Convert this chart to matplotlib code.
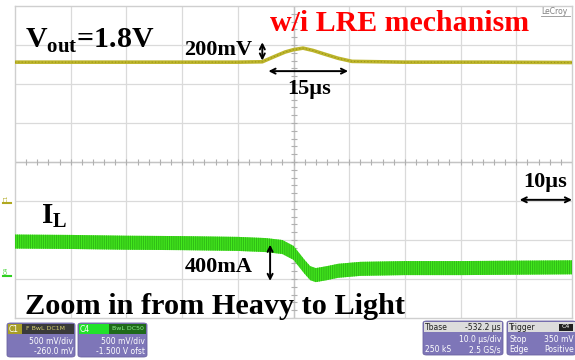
import numpy as np
import matplotlib
matplotlib.use('Agg')
import matplotlib.pyplot as plt
from matplotlib.patches import FancyBboxPatch, Rectangle

plt.rcParams['mathtext.fontset'] = 'custom'
plt.rcParams['mathtext.rm'] = 'Liberation Serif:bold'
plt.rcParams['mathtext.bf'] = 'Liberation Serif:bold'
plt.rcParams['hatch.linewidth'] = 0.6

# time axis in us, vertical axis in divisions (8 div screen)
t_vout = [-50, -30, -10, -5.6, -3.5, -1.5, 0, 1.7, 3.5, 5.5, 8, 10.5, 20, 35, 50]
vout = [2.56, 2.56, 2.56, 2.57, 2.70, 2.82, 2.88, 2.92, 2.86, 2.77, 2.66, 2.58, 2.56, 2.56, 2.55]

t_il = [-50, -40, -30, -20, -10, -5, -2, 0, 2, 3, 4, 6, 8, 12, 20, 30, 40, 50]
il = [-2.04, -2.05, -2.07, -2.08, -2.10, -2.13, -2.18, -2.33, -2.69, -2.85, -2.90,
      -2.85, -2.79, -2.74, -2.72, -2.72, -2.71, -2.70]
il_ripple = 0.36  # peak-to-peak, div

W, H = 575, 360
fig = plt.figure(figsize=(W / 100, H / 100), dpi=100)
fig.patch.set_facecolor('white')

def fx(x):
    return x / W

def fy(y):
    return 1 - y / H

ax = fig.add_axes([fx(15), fy(318), (572 - 15) / W, (318 - 6) / H])
ax.set_xlim(-50, 50)
ax.set_ylim(-4, 4)
ax.set_xticks([])
ax.set_yticks([])
for s in ax.spines.values():
    s.set_color('#cfcfcf')
    s.set_linewidth(1)

# graticule
for gx in np.arange(-40, 50, 10):
    ax.axvline(gx, color='#dadada', lw=0.9, zorder=1)
for gy in np.arange(-3, 4, 1):
    ax.axhline(gy, color='#dadada', lw=0.9, zorder=1)
ax.axhline(0, color='#c4c4c4', lw=1, zorder=1)
ax.axvline(0, color='#c4c4c4', lw=1, zorder=1)
ax.plot(np.arange(-50, 50.1, 2), np.zeros(51), '|', color='#b0b0b0', ms=4, mew=0.8, zorder=1)
ax.plot(np.zeros(41), np.arange(-4, 4.01, 0.2), '_', color='#b0b0b0', ms=4, mew=0.8, zorder=1)

# output voltage trace
ax.plot(t_vout, vout, color='#bdb52c', lw=2.6, zorder=3, solid_capstyle='butt')
ax.plot(t_vout, vout, color='#9a9418', lw=0.8, ls=(0, (1, 2)), zorder=3)

# inductor current band
il = np.array(il)
ax.fill_between(t_il, il - il_ripple / 2, il + il_ripple / 2, facecolor='#45ea1e',
                edgecolor='#2bb514', hatch='|' * 9, linewidth=0, zorder=3)

serif = 'Liberation Serif'
ax.text(-48.2, 3.1, r'V$_{\mathrm{out}}$=1.8V', fontsize=21.5, family=serif,
        fontweight='bold', va='center', ha='left', zorder=5)
ax.text(-4.3, 3.55, 'w/i LRE mechanism', fontsize=21.5, family=serif,
        fontweight='bold', color='#ff0000', va='center', ha='left', zorder=5)
ax.text(-19.6, 2.87, '200mV', fontsize=16, family=serif, fontweight='bold',
        va='center', ha='left', zorder=5)
ax.text(-1.2, 1.87, '15\u00b5s', fontsize=16, family=serif, fontweight='bold',
        va='center', ha='left', zorder=5)
ax.text(41.2, -0.5, '10\u00b5s', fontsize=16, family=serif, fontweight='bold',
        va='center', ha='left', zorder=5)
ax.text(-45.3, -1.38, r'I$_{\mathrm{L}}$', fontsize=21, family=serif,
        fontweight='bold', va='center', ha='left', zorder=5)
ax.text(-19.6, -2.68, '400mA', fontsize=16, family=serif, fontweight='bold',
        va='center', ha='left', zorder=5)
ax.text(-48.2, -3.7, 'Zoom in from Heavy to Light', fontsize=21.8, family=serif,
        fontweight='bold', va='center', ha='left', zorder=5)

arrow = dict(arrowstyle='<->', color='black', lw=1.4, mutation_scale=9,
             shrinkA=0, shrinkB=0)
ax.annotate('', xy=(-5.6, 3.07), xytext=(-5.6, 2.60), arrowprops=arrow, zorder=6)
ax.annotate('', xy=(-4.5, 2.33), xytext=(9.8, 2.33), arrowprops=arrow, zorder=6)
ax.annotate('', xy=(40.6, -0.97), xytext=(50, -0.97), arrowprops=arrow, zorder=6)
ax.annotate('', xy=(-4.2, -2.12), xytext=(-4.2, -3.05), arrowprops=arrow, zorder=6)

# LeCroy logo
fig.text(fx(541), fy(11), 'LeCroy', fontsize=5.5, color='#808080', family='DejaVu Sans',
         va='center', ha='left')
fig.add_artist(plt.Line2D([fx(541), fx(570)], [fy(16), fy(16)], color='#909090', lw=0.6))

# channel ground markers
fig.text(fx(6), fy(198), 'C1', fontsize=4, color='#b0a820', rotation=90, va='center', ha='center')
fig.add_artist(plt.Line2D([fx(3), fx(11)], [fy(203), fy(203)], color='#b0a820', lw=1.5))
fig.text(fx(6), fy(270), 'C4', fontsize=4, color='#30d020', rotation=90, va='center', ha='center')
fig.add_artist(plt.Line2D([fx(3), fx(11)], [fy(276), fy(276)], color='#30d020', lw=1.5))

# status boxes along the bottom
purple = '#7e76b8'
def status_box(x0, x1, y0, y1, head_color):
    fig.add_artist(FancyBboxPatch((fx(x0), fy(y1)), fx(x1 - x0), (y1 - y0) / H,
                                  boxstyle='round,pad=0,rounding_size=0.006',
                                  facecolor=purple, edgecolor='#6a62a0', lw=0.6))
    fig.add_artist(Rectangle((fx(x0 + 1), fy(y0 + 11)), fx(x1 - x0 - 2), 10 / H,
                             facecolor=head_color, edgecolor='none'))

txt = dict(fontsize=5.5, family='DejaVu Sans', va='center')
status_box(7, 75, 323, 357, '#3a3a3a')
fig.add_artist(Rectangle((fx(8), fy(334)), fx(14), 10 / H, facecolor='#a89e28', edgecolor='none'))
fig.text(fx(9), fy(329), 'C1', color='white', ha='left', **txt)
fig.text(fx(26), fy(329), 'F BwL DC1M', color='#d8d070', ha='left', fontsize=4.5,
         family='DejaVu Sans', va='center')
fig.text(fx(73), fy(341), '500 mV/div', color='white', ha='right', **txt)
fig.text(fx(73), fy(352), '-260.0 mV', color='white', ha='right', **txt)

status_box(78, 147, 323, 357, '#1f6a1a')
fig.add_artist(Rectangle((fx(79), fy(334)), fx(30), 10 / H, facecolor='#22e22a', edgecolor='none'))
fig.text(fx(80), fy(329), 'C4', color='white', ha='left', **txt)
fig.text(fx(112), fy(329), 'BwL DC50', color='#90f090', ha='left', fontsize=4.5,
         family='DejaVu Sans', va='center')
fig.text(fx(145), fy(341), '500 mV/div', color='white', ha='right', **txt)
fig.text(fx(145), fy(352), '-1.500 V ofst', color='white', ha='right', **txt)

status_box(423, 503, 321, 355, '#dcdcdc')
fig.text(fx(425), fy(327), 'Tbase', color='#202020', ha='left', **txt)
fig.text(fx(501), fy(327), '-532.2 \u00b5s', color='#202020', ha='right', **txt)
fig.text(fx(501), fy(339), '10.0 \u00b5s/div', color='white', ha='right', **txt)
fig.text(fx(425), fy(350), '250 kS', color='white', ha='left', **txt)
fig.text(fx(501), fy(350), '2.5 GS/s', color='white', ha='right', **txt)

status_box(507, 576, 321, 355, '#dcdcdc')
fig.add_artist(Rectangle((fx(559), fy(331)), fx(14), 7 / H, facecolor='#202020', edgecolor='none'))
fig.text(fx(566), fy(327), 'C4', color='white', ha='center', fontsize=4.5,
         family='DejaVu Sans', va='center')
fig.text(fx(509), fy(327), 'Trigger', color='#202020', ha='left', **txt)
fig.text(fx(509), fy(339), 'Stop', color='white', ha='left', **txt)
fig.text(fx(574), fy(339), '350 mV', color='white', ha='right', **txt)
fig.text(fx(509), fy(350), 'Edge', color='white', ha='left', **txt)
fig.text(fx(574), fy(350), 'Positive', color='white', ha='right', **txt)

fig.savefig('out.png', dpi=100)
